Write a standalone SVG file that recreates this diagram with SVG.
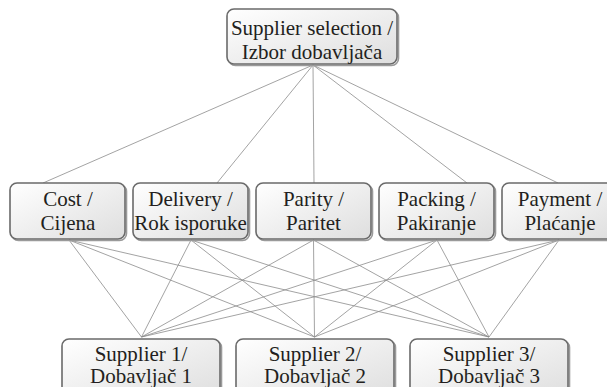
<svg xmlns="http://www.w3.org/2000/svg" width="607" height="387" viewBox="0 0 607 387">
<defs>
<linearGradient id="g" x1="0" y1="0" x2="1" y2="1">
<stop offset="0" stop-color="#ffffff"/>
<stop offset="1" stop-color="#dedede"/>
</linearGradient>
</defs>
<style>
.box{fill:url(#g);stroke:#6a6a6a;stroke-width:1.6}
.sh{fill:none;stroke:#9a9a9a;stroke-width:1.6}
text{font-family:'Liberation Serif','DejaVu Serif',serif;font-size:21px;fill:#231f20;text-anchor:middle}
.c line{stroke:#8c8c8c;stroke-width:0.8}
</style>
<rect width="607" height="387" fill="#ffffff"/>
<g class="c" id="connectors">
<line x1="313" y1="65" x2="43" y2="183"/>
<line x1="313" y1="65" x2="217" y2="183"/>
<line x1="313" y1="65" x2="314" y2="183"/>
<line x1="313" y1="65" x2="467" y2="183"/>
<line x1="313" y1="65" x2="558" y2="183"/>
<line x1="69" y1="240" x2="141.5" y2="337"/>
<line x1="69" y1="240" x2="314.5" y2="337"/>
<line x1="69" y1="240" x2="489" y2="337"/>
<line x1="191" y1="240" x2="141.5" y2="337"/>
<line x1="191" y1="240" x2="314.5" y2="337"/>
<line x1="191" y1="240" x2="489" y2="337"/>
<line x1="313.5" y1="240" x2="141.5" y2="337"/>
<line x1="313.5" y1="240" x2="314.5" y2="337"/>
<line x1="313.5" y1="240" x2="489" y2="337"/>
<line x1="437" y1="240" x2="141.5" y2="337"/>
<line x1="437" y1="240" x2="314.5" y2="337"/>
<line x1="437" y1="240" x2="489" y2="337"/>
<line x1="559" y1="240" x2="141.5" y2="337"/>
<line x1="559" y1="240" x2="314.5" y2="337"/>
<line x1="559" y1="240" x2="489" y2="337"/>
</g>
<g id="top">
<rect class="sh" x="228.5" y="10.5" width="170" height="55" rx="7"/>
<rect class="box" x="227" y="9" width="170" height="55" rx="7"/>
<text font-family="Liberation Serif, DejaVu Serif, serif" x="312" y="35">Supplier selection /</text>
<text font-family="Liberation Serif, DejaVu Serif, serif" x="312" y="59">Izbor dobavljača</text>
</g>
<g id="cost">
<rect class="sh" x="11.5" y="184.5" width="115" height="56" rx="7"/>
<rect class="box" x="10" y="183" width="115" height="56" rx="7"/>
<text font-family="Liberation Serif, DejaVu Serif, serif" x="68" y="206">Cost /</text>
<text font-family="Liberation Serif, DejaVu Serif, serif" x="68" y="230">Cijena</text>
</g>
<g id="delivery">
<rect class="sh" x="134.5" y="184.5" width="115" height="56" rx="7"/>
<rect class="box" x="133" y="183" width="115" height="56" rx="7"/>
<text font-family="Liberation Serif, DejaVu Serif, serif" x="190.5" y="206">Delivery /</text>
<text font-family="Liberation Serif, DejaVu Serif, serif" x="190.5" y="230">Rok isporuke</text>
</g>
<g id="parity">
<rect class="sh" x="257.5" y="184.5" width="115" height="56" rx="7"/>
<rect class="box" x="256" y="183" width="115" height="56" rx="7"/>
<text font-family="Liberation Serif, DejaVu Serif, serif" x="313.5" y="206">Parity /</text>
<text font-family="Liberation Serif, DejaVu Serif, serif" x="313.5" y="230">Paritet</text>
</g>
<g id="packing">
<rect class="sh" x="380.5" y="184.5" width="115" height="56" rx="7"/>
<rect class="box" x="379" y="183" width="115" height="56" rx="7"/>
<text font-family="Liberation Serif, DejaVu Serif, serif" x="436.5" y="206">Packing /</text>
<text font-family="Liberation Serif, DejaVu Serif, serif" x="436.5" y="230">Pakiranje</text>
</g>
<g id="payment">
<rect class="sh" x="503.5" y="184.5" width="115" height="56" rx="7"/>
<rect class="box" x="502" y="183" width="115" height="56" rx="7"/>
<text font-family="Liberation Serif, DejaVu Serif, serif" x="560" y="206">Payment /</text>
<text font-family="Liberation Serif, DejaVu Serif, serif" x="560" y="230">Plaćanje</text>
</g>
<g id="s1">
<rect class="sh" x="63.5" y="340.5" width="158" height="60" rx="7"/>
<rect class="box" x="62" y="339" width="158" height="60" rx="7"/>
<text font-family="Liberation Serif, DejaVu Serif, serif" x="141" y="361">Supplier 1/</text>
<text font-family="Liberation Serif, DejaVu Serif, serif" x="141" y="383">Dobavljač 1</text>
</g>
<g id="s2">
<rect class="sh" x="237.5" y="340.5" width="158" height="60" rx="7"/>
<rect class="box" x="236" y="339" width="158" height="60" rx="7"/>
<text font-family="Liberation Serif, DejaVu Serif, serif" x="315" y="361">Supplier 2/</text>
<text font-family="Liberation Serif, DejaVu Serif, serif" x="315" y="383">Dobavljač 2</text>
</g>
<g id="s3">
<rect class="sh" x="411.5" y="340.5" width="158" height="60" rx="7"/>
<rect class="box" x="410" y="339" width="158" height="60" rx="7"/>
<text font-family="Liberation Serif, DejaVu Serif, serif" x="489" y="361">Supplier 3/</text>
<text font-family="Liberation Serif, DejaVu Serif, serif" x="489" y="383">Dobavljač 3</text>
</g>
</svg>
